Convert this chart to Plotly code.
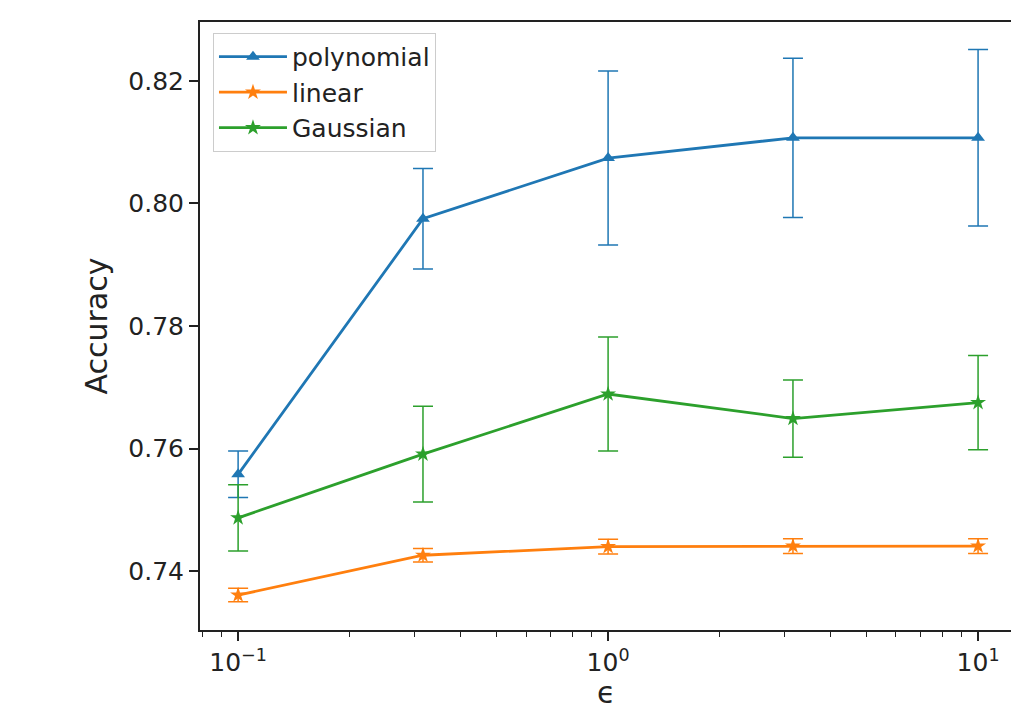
import plotly.graph_objects as go

eps = [0.1, 0.316, 1.0, 3.16, 10.0]

poly_acc = [0.7558, 0.7975, 0.8074, 0.8107, 0.8107]
poly_err = [0.0038, 0.0082, 0.0142, 0.0130, 0.0144]

lin_acc = [0.7361, 0.7426, 0.7440, 0.7441, 0.7441]
lin_err = [0.0011, 0.0011, 0.0012, 0.0012, 0.0012]

gau_acc = [0.7487, 0.7591, 0.7689, 0.7649, 0.7675]
gau_err = [0.0054, 0.0078, 0.0093, 0.0063, 0.0077]

series = [
    ("polynomial", poly_acc, poly_err, "#1f77b4", "triangle-up"),
    ("linear", lin_acc, lin_err, "#ff7f0e", "star"),
    ("Gaussian", gau_acc, gau_err, "#2ca02c", "star"),
]

x_tickvals = [0.1, 1, 10]
x_ticktext = ["10<sup>−1</sup>", "10<sup>0</sup>", "10<sup>1</sup>"]
x_minor = [0.08, 0.09, 0.2, 0.3, 0.4, 0.5, 0.6, 0.7, 0.8, 0.9,
           2, 3, 4, 5, 6, 7, 8, 9, 20]
y_tickvals = [0.74, 0.76, 0.78, 0.80, 0.82]
x_label = "ϵ"
y_label = "Accuracy"

fig = go.Figure()
for name, acc, err, color, sym in series:
    fig.add_trace(go.Scatter(
        x=eps, y=acc, name=name, mode="lines+markers",
        line=dict(color=color, width=2.8),
        marker=dict(symbol=sym, size=12, color=color),
        error_y=dict(type="data", array=err, visible=True, color=color,
                     thickness=1.5, width=10),
    ))

font_family = "DejaVu Sans"
fig.update_layout(
    width=1011, height=709,
    margin=dict(l=200, r=0, t=22, b=79),
    paper_bgcolor="white", plot_bgcolor="white",
    font=dict(family=font_family, size=25, color="#222222"),
    showlegend=True,
    legend=dict(
        x=0.016, y=0.982, xanchor="left", yanchor="top",
        bgcolor="rgba(255,255,255,0.8)", bordercolor="#cccccc", borderwidth=1,
        font=dict(family=font_family, size=25, color="#222222"),
        itemwidth=68,
    ),
    xaxis=dict(
        type="log", range=[-1.103, 1.089], automargin=False,
        tickvals=x_tickvals, ticktext=x_ticktext,
        ticks="outside", ticklen=9, tickwidth=1.5, tickcolor="#222222",
        showline=True, linecolor="#222222", linewidth=2, mirror=True,
        showgrid=False, zeroline=False,
        minor=dict(tickvals=x_minor, ticks="outside", ticklen=5,
                   tickcolor="#222222", tickwidth=1, showgrid=False),
    ),
    yaxis=dict(
        range=[0.7304, 0.8296], automargin=False,
        tickvals=y_tickvals, tickformat=".2f",
        ticks="outside", ticklen=9, tickwidth=1.5, tickcolor="#222222",
        showline=True, linecolor="#222222", linewidth=2, mirror=False,
        showgrid=False, zeroline=False,
        title=dict(text=y_label, font=dict(size=30, family=font_family), standoff=12),
    ),
    annotations=[dict(
        text=x_label, xref="paper", yref="paper", x=0.5, y=-0.103,
        xanchor="center", yanchor="middle", showarrow=False,
        font=dict(size=30, family=font_family, color="#222222"),
    )],
)

fig.write_html("out.html")
